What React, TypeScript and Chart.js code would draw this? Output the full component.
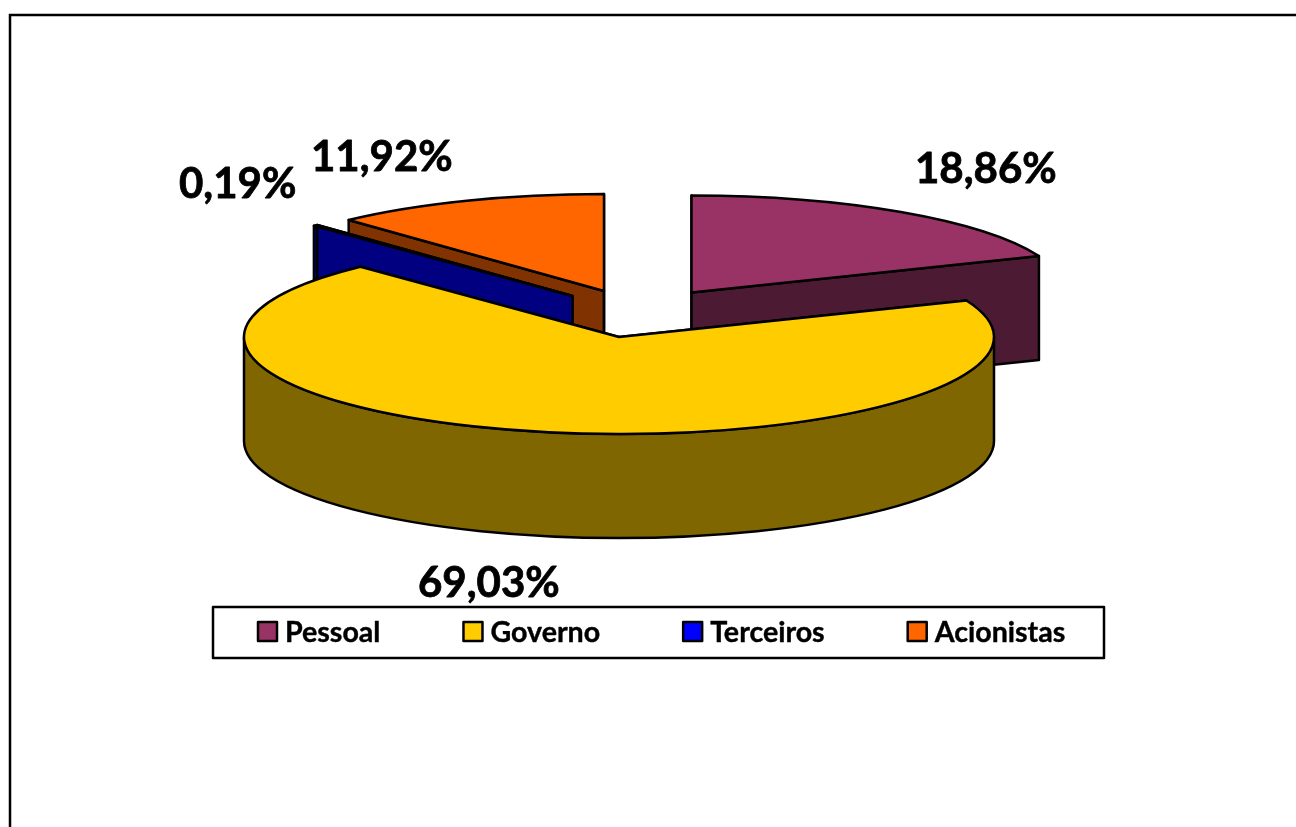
import React, { useEffect, useRef } from "react";
import Chart from "chart.js/auto";

// Distribution of value added
const categories = ["Pessoal", "Governo", "Terceiros", "Acionistas"];
const shares = [18.86, 69.03, 0.19, 11.92];

const topColors = ["#993366", "#FFCC00", "#0000FF", "#FF6600"];
const wallColors = ["#4D1A33", "#806600", "#000080", "#803300"];

// Painter's order for the slices, back to front
const paintOrder = [3, 2, 0, 1];
// Explosion of each slice from the pie centre, in pixels
const explodeX = [72.5, 0, -46.5, -15];
const explodeY = [-44.5, 0, -41, -46];
// Data label anchors (left edge, baseline)
const labelX = [915, 418, 179, 311];
const labelY = [183, 597, 198, 171];

const RADIUS_X = 375;
const RADIUS_Y = 97;
const DEPTH = 104;
const CENTER_X = 619;
const CENTER_Y = 337;
const LINE = 2.5;

const formatShare = (v: number) => v.toFixed(2).replace(".", ",") + "%";

// Paints the pie as an extruded, exploded disc from the arc elements' angles
const extrudedPie = {
  id: "extrudedPie",
  beforeDatasetsDraw(chart: any) {
    const ctx: CanvasRenderingContext2D = chart.ctx;
    const arcs = chart.getDatasetMeta(0).data;
    ctx.save();
    ctx.lineWidth = LINE;
    ctx.strokeStyle = "#000";
    ctx.lineJoin = "round";

    for (const i of paintOrder) {
      const arc = arcs[i];
      const { startAngle, endAngle, outerRadius } = arc;
      const cx = CENTER_X + explodeX[i];
      const cy = CENTER_Y + explodeY[i];
      const rx = outerRadius;
      const ry = (outerRadius * RADIUS_Y) / RADIUS_X;

      // radial side walls
      ctx.fillStyle = wallColors[i];
      for (const angle of [startAngle, endAngle]) {
        const px = cx + rx * Math.cos(angle);
        const py = cy + ry * Math.sin(angle);
        ctx.beginPath();
        ctx.moveTo(cx, cy);
        ctx.lineTo(px, py);
        ctx.lineTo(px, py + DEPTH);
        ctx.lineTo(cx, cy + DEPTH);
        ctx.closePath();
        ctx.fill();
        ctx.stroke();
      }

      // curved outer wall, front half only
      const a0 = Math.max(startAngle, 0);
      const a1 = Math.min(endAngle, Math.PI);
      if (a1 > a0) {
        ctx.beginPath();
        ctx.ellipse(cx, cy, rx, ry, 0, a0, a1);
        ctx.ellipse(cx, cy + DEPTH, rx, ry, 0, a1, a0, true);
        ctx.closePath();
        ctx.fill();
        ctx.stroke();
      }

      // top face
      ctx.fillStyle = topColors[i];
      ctx.beginPath();
      ctx.moveTo(cx, cy);
      ctx.ellipse(cx, cy, rx, ry, 0, startAngle, endAngle);
      ctx.closePath();
      ctx.fill();
      ctx.stroke();
    }
    ctx.restore();
    return false;
  },
  afterDraw(chart: any) {
    const ctx: CanvasRenderingContext2D = chart.ctx;
    ctx.save();

    // outer frame, running off the right and bottom edges
    ctx.strokeStyle = "#000";
    ctx.lineWidth = LINE;
    ctx.beginPath();
    ctx.moveTo(10, 827);
    ctx.lineTo(10, 15);
    ctx.lineTo(1296, 15);
    ctx.stroke();

    // data labels, slightly emboldened
    ctx.fillStyle = "#000";
    ctx.textBaseline = "alphabetic";
    ctx.textAlign = "left";
    ctx.lineJoin = "round";
    ctx.font = "bold 42px Lato";
    ctx.lineWidth = 0.8;
    shares.forEach((v, i) => {
      ctx.fillText(formatShare(v), labelX[i], labelY[i]);
      ctx.strokeText(formatShare(v), labelX[i], labelY[i]);
    });

    // legend
    ctx.lineWidth = LINE;
    ctx.strokeRect(213, 607, 891, 51);
    ctx.font = "bold 28.6px Lato";
    let x = 258;
    categories.forEach((name, i) => {
      ctx.lineWidth = LINE;
      ctx.fillStyle = topColors[i];
      ctx.fillRect(x, 622, 19, 19);
      ctx.strokeRect(x, 622, 19, 19);
      ctx.fillStyle = "#000";
      ctx.fillText(name, x + 27, 642);
      ctx.lineWidth = 0.4;
      ctx.strokeText(name, x + 27, 642);
      x += 27 + ctx.measureText(name).width + 83;
    });
    ctx.restore();
  },
};

export default function App() {
  const ref = useRef<HTMLCanvasElement>(null);
  useEffect(() => {
    const chart = new Chart(ref.current!, {
      type: "pie",
      data: {
        labels: categories,
        datasets: [{ data: shares, backgroundColor: topColors, radius: RADIUS_X }],
      },
      options: {
        animation: false,
        responsive: false,
        plugins: { legend: { display: false }, tooltip: { enabled: false } },
      },
      plugins: [extrudedPie],
    } as any);
    return () => chart.destroy();
  }, []);
  return (
    <canvas
      ref={ref}
      width={1296}
      height={827}
      style={{ position: "absolute", left: 0, top: 0, width: 1296, height: 827, background: "#fff" }}
    />
  );
}
